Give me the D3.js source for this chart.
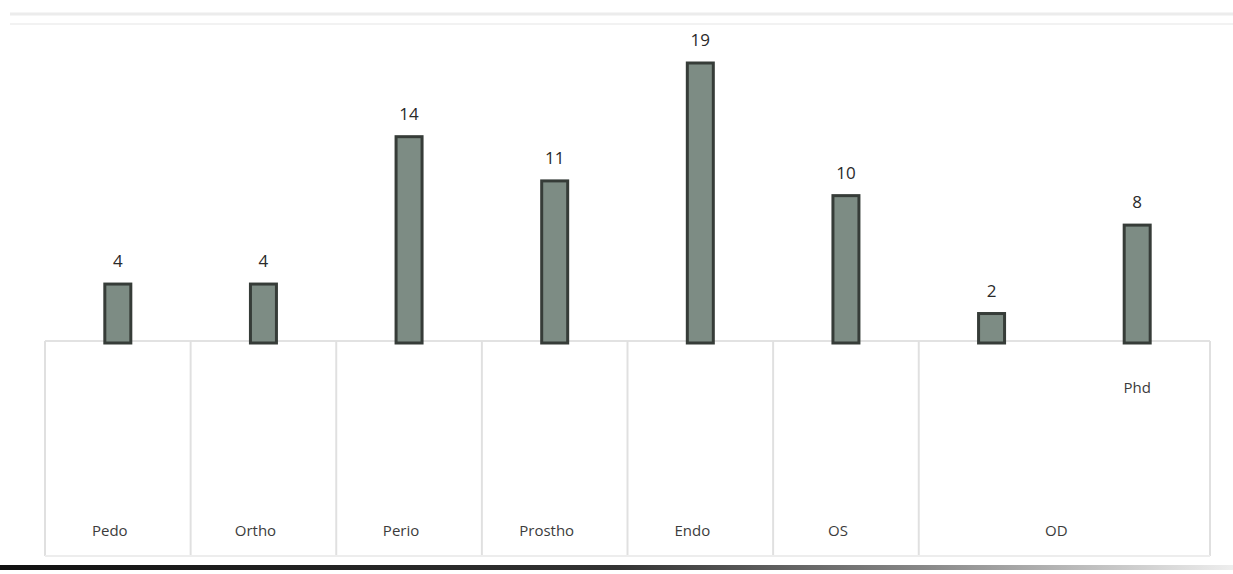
<!DOCTYPE html>
<html><head><meta charset="utf-8">
<script src="https://cdn.jsdelivr.net/npm/d3@7"></script>
<style>body{margin:0;background:#fff;}svg{display:block;}</style>
</head><body>
<svg id="c" width="1233" height="574"></svg>
<script>
const categories = ["Pedo","Ortho","Perio","Prostho","Endo","OS","OD","Phd"];
const values = [4,4,14,11,19,10,2,8];
const groupLabels = ["Pedo","Ortho","Perio","Prostho","Endo","OS","OD"];
const groupSpans = [1,1,1,1,1,1,2];
const subLabels = ["","","","","","","","Phd"];

const svg = d3.select("#c");
const x = d3.scaleBand().domain(categories).range([45,1210]).paddingInner(0).paddingOuter(0);
const y = d3.scaleLinear().domain([0,19]).range([343,63]);
const bw = 26;

// faint top scan lines
svg.append("line").attr("x1",10).attr("x2",1233).attr("y1",14).attr("y2",14).attr("stroke","#ececec").attr("stroke-width",3);
svg.append("line").attr("x1",10).attr("x2",1233).attr("y1",24).attr("y2",24).attr("stroke","#f2f2f2").attr("stroke-width",2);

// table
const tableTop = 341, tableBottom = 556;
svg.append("line").attr("x1",45).attr("x2",1210).attr("y1",tableTop).attr("y2",tableTop).attr("stroke","#e2e2e2").attr("stroke-width",2);
let idx = 0;
const bounds = [x(categories[0])];
groupSpans.forEach((s,i)=>{ idx += s; bounds.push(idx < categories.length ? x(categories[idx]) : x.range()[1]); });
bounds.forEach(b=>{
  svg.append("line").attr("x1",b).attr("x2",b).attr("y1",tableTop).attr("y2",tableBottom).attr("stroke","#e0e0e0").attr("stroke-width",2);
});
svg.append("line").attr("x1",45).attr("x2",1210).attr("y1",tableBottom).attr("y2",tableBottom).attr("stroke","#ededed").attr("stroke-width",2);
groupLabels.forEach((g,i)=>{
  const cx = (bounds[i]+bounds[i+1])/2;
  svg.append("text").attr("x",cx-8).attr("y",536).attr("text-anchor","middle")
    .attr("font-family","Open Sans, sans-serif").attr("font-size",15).attr("fill","#3c3c3c").text(g);
});
categories.forEach((c,i)=>{
  if(subLabels[i]) svg.append("text").attr("x",x(c)+x.bandwidth()/2).attr("y",393).attr("text-anchor","middle")
    .attr("font-family","Open Sans, sans-serif").attr("font-size",15).attr("fill","#3c3c3c").text(subLabels[i]);
});

// bars
svg.selectAll("rect.bar").data(values).enter().append("rect").attr("class","bar")
  .attr("x",(d,i)=>x(categories[i])+x.bandwidth()/2-bw/2)
  .attr("y",d=>y(d)).attr("width",bw).attr("height",d=>y(0)-y(d))
  .attr("fill","#7d8c84").attr("stroke","#363c38").attr("stroke-width",3);

svg.selectAll("text.val").data(values).enter().append("text").attr("class","val")
  .attr("x",(d,i)=>x(categories[i])+x.bandwidth()/2).attr("y",d=>y(d)-17)
  .attr("text-anchor","middle").attr("font-family","Open Sans, sans-serif").attr("font-size",17).attr("fill","#2a2a2a")
  .text(d=>d);

// bottom dark scan edge
const defs = svg.append("defs");
const grad = defs.append("linearGradient").attr("id","g").attr("x1","0").attr("x2","1");
grad.append("stop").attr("offset","0").attr("stop-color","#111");
grad.append("stop").attr("offset","0.5").attr("stop-color","#333");
grad.append("stop").attr("offset","0.75").attr("stop-color","#888");
grad.append("stop").attr("offset","1").attr("stop-color","#eee");
svg.append("rect").attr("x",0).attr("y",565).attr("width",1233).attr("height",5).attr("fill","url(#g)");
</script>
</body></html>
